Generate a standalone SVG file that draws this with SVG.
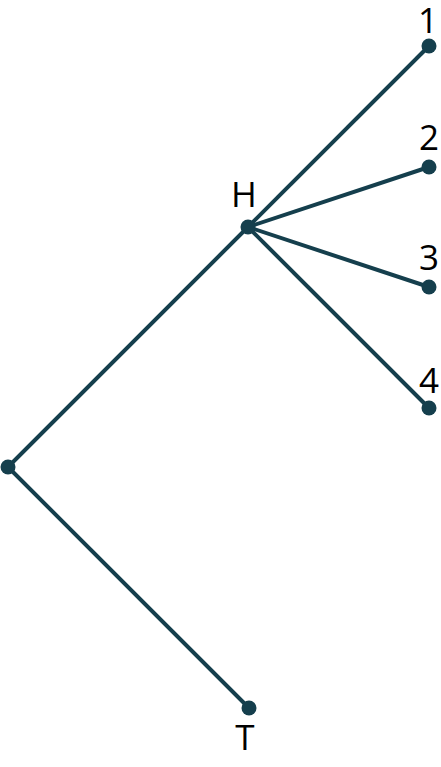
<svg xmlns="http://www.w3.org/2000/svg" width="441" height="767" viewBox="0 0 441 767">
<style>
.e{stroke:#153f4d;stroke-width:4;fill:none;stroke-linecap:round}
.d{fill:#153f4d}
.t{font-family:"Open Sans","Noto Sans",sans-serif;font-size:35px;fill:#000;text-anchor:middle}
</style>
<rect width="441" height="767" fill="#fff"/>
<g id="edges">
<line class="e" x1="8" y1="467" x2="248" y2="227"/>
<line class="e" x1="8" y1="467" x2="249" y2="708"/>
<line class="e" x1="248" y1="227" x2="429" y2="46"/>
<line class="e" x1="248" y1="227" x2="429" y2="167"/>
<line class="e" x1="248" y1="227" x2="429" y2="287"/>
<line class="e" x1="248" y1="227" x2="429" y2="408"/>
</g>
<g id="root"><circle class="d" cx="8" cy="467" r="7.5"/></g>
<g id="H"><circle class="d" cx="248" cy="227" r="7.5"/><text class="t" x="244" y="207">H</text></g>
<g id="T"><circle class="d" cx="249" cy="708" r="7.5"/><text class="t" x="245" y="750">T</text></g>
<g id="n1"><circle class="d" cx="429" cy="46" r="7.5"/><text class="t" x="428" y="33">1</text></g>
<g id="n2"><circle class="d" cx="429" cy="167" r="7.5"/><text class="t" x="429" y="150">2</text></g>
<g id="n3"><circle class="d" cx="429" cy="287" r="7.5"/><text class="t" x="429" y="270">3</text></g>
<g id="n4"><circle class="d" cx="429" cy="408" r="7.5"/><text class="t" x="429" y="393">4</text></g>
</svg>
